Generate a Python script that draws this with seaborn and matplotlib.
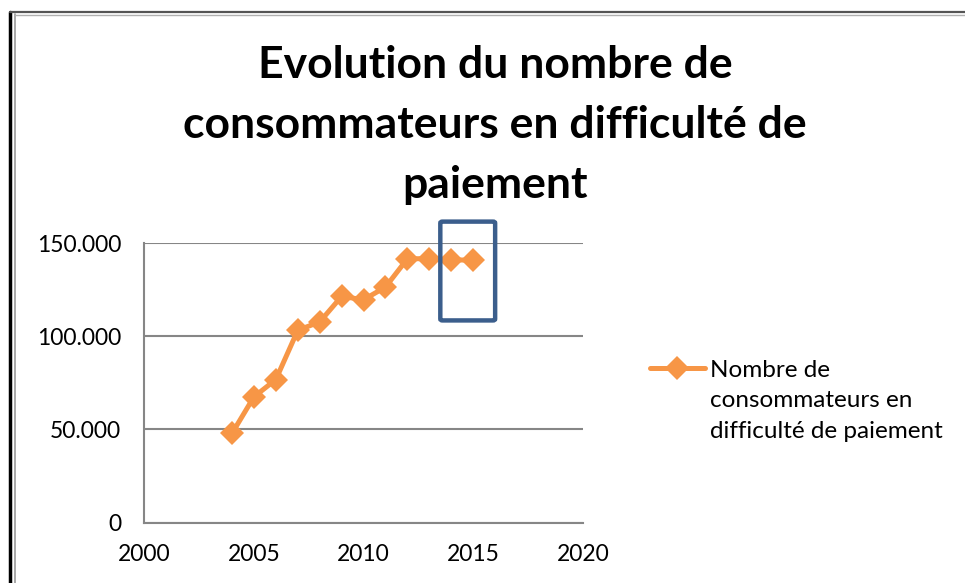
import numpy as np
import pandas as pd
import seaborn as sns
import matplotlib.pyplot as plt
from matplotlib.patches import FancyBboxPatch
from matplotlib.lines import Line2D

annees = [2004, 2005, 2006, 2007, 2008, 2009, 2010, 2011, 2012, 2013, 2014, 2015]
consommateurs = [47900, 67500, 76800, 103200, 107700, 121400, 119600, 126400, 141600, 141600, 141100, 140700]
y_ticks = [0, 50000, 100000, 150000]
y_labels = ['0', '50.000', '100.000', '150.000']
x_ticks = [2000, 2005, 2010, 2015, 2020]

titre = "Evolution du nombre de\nconsommateurs en difficulté de\npaiement"
serie = "Nombre de\nconsommateurs en\ndifficulté de paiement"

df = pd.DataFrame({'annee': annees, 'valeur': consommateurs})

sns.set_style('white')
plt.rcParams['font.family'] = ['Lato', 'DejaVu Sans']

fig = plt.figure(figsize=(9.65, 5.83), dpi=100)
ax = fig.add_axes([0.1495, 0.1034, 0.4545, 0.4797])

orange = '#F79646'
grey = '#868686'

sns.lineplot(data=df, x='annee', y='valeur', ax=ax, color=orange, linewidth=3.6,
             marker='D', markersize=12, markeredgewidth=0, legend=False, clip_on=False)

ax.set_xlim(2000, 2020)
ax.set_ylim(0, 150000)
ax.set_xticks(x_ticks)
ax.set_xticklabels([str(x) for x in x_ticks])
ax.set_yticks(y_ticks)
ax.set_yticklabels(y_labels)
ax.set_xlabel('')
ax.set_ylabel('')
ax.yaxis.grid(True, color=grey, linewidth=1.5)
ax.set_axisbelow(True)
for s in ['top', 'right']:
    ax.spines[s].set_visible(False)
for s in ['left', 'bottom']:
    ax.spines[s].set_color(grey)
    ax.spines[s].set_linewidth(1.5)
ax.tick_params(axis='both', direction='out', length=4.5, width=1.5, color=grey,
               labelsize=16.5, labelcolor='black')
ax.tick_params(axis='y', pad=12)
ax.tick_params(axis='x', pad=11)

# cadre bleu autour de 2014-2015
box = FancyBboxPatch((2013.5, 108500), 2.5, 53000,
                     boxstyle='round,pad=0,rounding_size=0.1',
                     fill=False, edgecolor='#3B5E8C', linewidth=3.2,
                     clip_on=False, mutation_aspect=8000, zorder=5)
ax.add_patch(box)

fig.text(0.513, 0.922, titre, ha='center', va='top', fontsize=32, color='black',
         fontweight='bold', linespacing=1.6)

# légende
fig.add_artist(Line2D([0.6736, 0.702, 0.7306], [0.3688] * 3, color=orange, linewidth=3.6,
                      marker='D', markersize=12, markeredgewidth=0, markevery=[1]))
fig.text(0.7358, 0.2487, serie, ha='left', va='baseline', fontsize=17.5, color='black',
         linespacing=1.57)

# bordure de la capture
fig.add_artist(Line2D([0.0105, 0.0105], [0, 0.979], color='black', linewidth=2.5))
fig.add_artist(Line2D([0.0155, 0.0155], [0, 0.976], color='#9a9a9a', linewidth=1.2))
fig.add_artist(Line2D([0.0105, 1], [0.979, 0.979], color='#555555', linewidth=1.6))
fig.add_artist(Line2D([0.0155, 1], [0.975, 0.975], color='#b0b0b0', linewidth=1.0))

fig.savefig('out.png', dpi=100)
